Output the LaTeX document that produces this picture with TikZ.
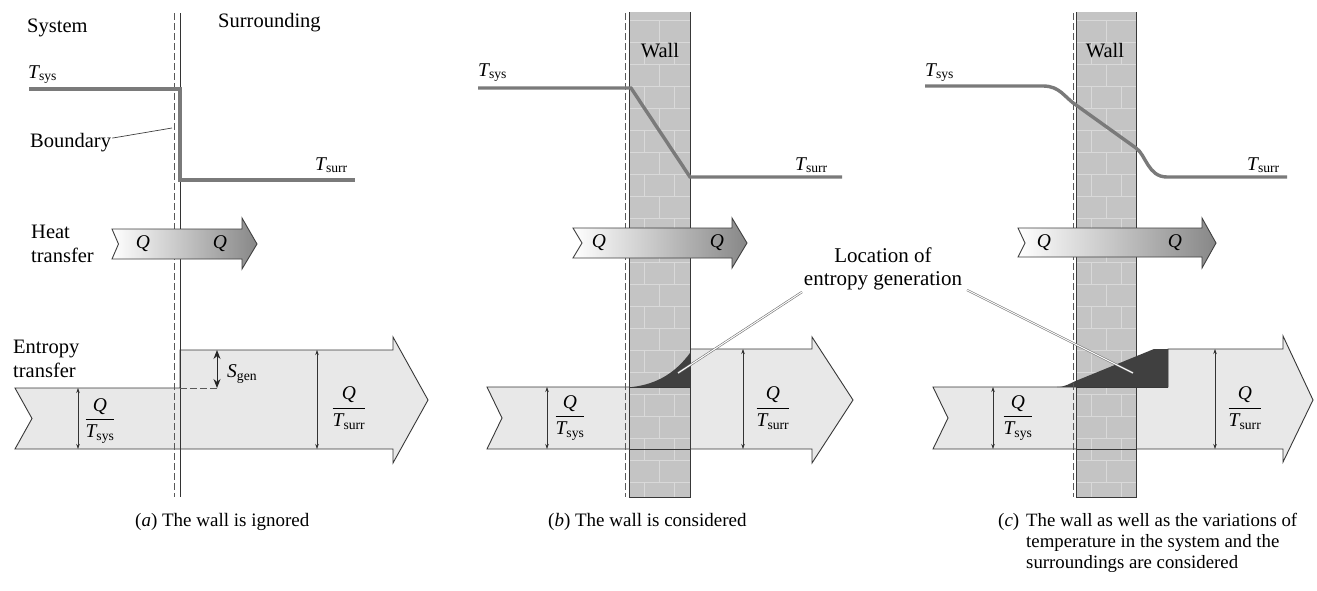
\RequirePackage{fix-cm}
\documentclass[tikz,border=0pt]{standalone}
\usepackage{amsmath}
\usepackage{fontspec}
\setmainfont{Liberation Serif}
\usetikzlibrary{arrows.meta}
\tikzset{
  outl/.style={draw=black!78, line width=0.9pt},
  templine/.style={draw=black!52, line width=3.4pt},
  solidb/.style={draw=black!80, line width=0.9pt},
  dashb/.style={draw=black!65, line width=0.7pt, dash pattern=on 7pt off 3pt},
  heatarr/.style={left color=white, right color=black!47, draw=black!75, line width=0.9pt},
  entarr/.style={fill=black!9, draw=black!78, line width=0.9pt},
  wallfill/.style={fill=black!23},
  brickln/.style={draw=black!15, line width=1pt},
  genreg/.style={fill=black!75},
  dimsmall/.style={draw=black!80, line width=0.6pt, {Stealth[length=5pt,width=3.5pt]}-{Stealth[length=5pt,width=3.5pt]}},
  dimbig/.style={draw=black!85, line width=1pt, {Stealth[length=9pt,width=7pt]}-{Stealth[length=9pt,width=7pt]}},
  leaderln/.style={draw=black!55, line width=0.6pt, double=white, double distance=1pt},
  thinleader/.style={draw=black!75, line width=0.7pt},
  lbl/.style={font=\fontsize{20.5}{23.5}\selectfont, anchor=base west, inner sep=0pt, align=left},
  tlbl/.style={font=\fontsize{19.5}{22}\selectfont, inner sep=0pt},
  captext/.style={font=\fontsize{19}{21}\selectfont, anchor=base west, inner sep=0pt, align=left},
}
\newcommand\wallat[2]{%
  \fill[wallfill] (#1,12) rectangle (#2,497);
  \begin{scope}
    \clip (#1,12) rectangle (#2,497);
    \foreach \k in {0,...,22}{%
      \pgfmathsetmacro\yy{20+\k*22}
      \pgfmathsetmacro\yn{20+(\k+1)*22}
      \draw[brickln] (#1,\yy) -- (#2,\yy);
      \ifodd\k
        \draw[brickln] ({#1+15},\yy) -- ({#1+15},\yn);
        \draw[brickln] ({#1+45},\yy) -- ({#1+45},\yn);
      \else
        \draw[brickln] ({#1+30},\yy) -- ({#1+30},\yn);
      \fi
    }
  \end{scope}
  \draw[outl] (#1,12) -- (#1,497) -- (#2,497) -- (#2,12);
}
\newcommand\Tsys{$\textit{T}_{\text{sys}}$}
\newcommand\Tsurr{$\textit{T}_{\text{surr}}$}
\newcommand\QTsys{$\dfrac{\textit{Q}}{\textit{T}_{\text{sys}}}$}
\newcommand\QTsurr{$\dfrac{\textit{Q}}{\textit{T}_{\text{surr}}}$}
\begin{document}
\begin{tikzpicture}[x=1pt,y=-1pt]
\useasboundingbox (0,0) rectangle (1317,590);
\fill[white] (0,0) rectangle (1317,590);

% ================= panel (a) =================
\path[entarr] (15,388) -- (180,388) -- (180,350) -- (393,350) -- (393,337) -- (428,400) -- (393,463) -- (393,449) -- (15,449) -- (32,418.5) -- cycle;
\draw[dashb] (174,13) -- (174,497);
\draw[solidb] (180,13) -- (180,497);
\draw[dashb] (180,388) -- (218,388);
\draw[templine] (29,89) -- (180,89) -- (180,180) -- (355,180);
\path[heatarr] (112,229) -- (242,229) -- (242,218) -- (257,244) -- (242,269) -- (242,259) -- (112,259) -- (118.5,244) -- cycle;
\draw[dimsmall] (78,388) -- (78,449);
\draw[dimbig] (217,350) -- (217,388);
\draw[dimsmall] (317,350) -- (317,449);

\node[lbl] (sysA) at (27,32) {System};
\node[lbl] (surA) at (218,27) {Surrounding};
\node[lbl] (bndA) at (30,147) {Boundary};
\coordinate (bndtip) at (172,128);
\draw[thinleader] (bndA.east) ++(1,-4) -- (bndtip);
\node[lbl] (heatA) at (31,262) {Heat\\transfer};
\node[lbl] (entA) at (13,377) {Entropy\\transfer};
\node[tlbl, anchor=base west] (tsysA) at (28,78) {\Tsys};
\node[tlbl, anchor=base west] (tsurA) at (315,170) {\Tsurr};
\node[tlbl] (q1A) at (143,244) {\textit{Q}};
\node[tlbl] (q2A) at (220,244) {\textit{Q}};
\node[tlbl] (fsA) at (100,421) {\QTsys};
\node[tlbl] (frA) at (349,408) {\QTsurr};
\node[tlbl, anchor=west] (sgA) at (227,374) {$\textit{S}_{\text{gen}}$};
\node[captext] (capA) at (135,526) {(\textit{a}) The wall is ignored};

% ================= panel (b) =================
\path[entarr] (487,387) -- (690,387) -- (690,349) -- (812,349) -- (812,337) -- (853,400) -- (812,463) -- (812,449) -- (487,449) -- (502,418) -- cycle;
\wallat{629}{690}
\fill[genreg] (632,387) .. controls (658,384) and (676,372) .. (690,353) -- (690,387) -- cycle;
\draw[outl] (629,387) -- (690,387) (629,449) -- (690,449);
\draw[dashb] (625,13) -- (625,497);
\draw[templine] (478,88) -- (631,88) -- (690,177) -- (842,177);
\path[heatarr] (573,228) -- (732,228) -- (732,218) -- (747,243) -- (732,268) -- (732,258) -- (573,258) -- (582,243) -- cycle;
\draw[dimsmall] (547,387) -- (547,449);
\draw[dimsmall] (743,349) -- (743,449);

\node[lbl, anchor=base] (wallB) at (660,57) {Wall};
\node[tlbl, anchor=base west] (tsysB) at (478,76) {\Tsys};
\node[tlbl, anchor=base west] (tsurB) at (795,170) {\Tsurr};
\node[tlbl] (q1B) at (599,243) {\textit{Q}};
\node[tlbl] (q2B) at (717,243) {\textit{Q}};
\node[tlbl] (fsB) at (570,418) {\QTsys};
\node[tlbl] (frB) at (773,408) {\QTsurr};
\node[lbl, anchor=base, align=center, font=\fontsize{21}{23}\selectfont] (locB) at (883,285) {Location of\\entropy generation};
\coordinate (genB) at (678,373);
\draw[leaderln] (802,292) -- (genB);
\node[captext] (capB) at (548,526) {(\textit{b}) The wall is considered};

% ================= panel (c) =================
\path[entarr] (933,387) -- (1168,387) -- (1168,349) -- (1283,349) -- (1283,336) -- (1313,400) -- (1283,462) -- (1283,449) -- (933,449) -- (948,418) -- cycle;
\wallat{1076}{1136}
\fill[genreg] (1057,387) .. controls (1066,387) and (1070,383) .. (1078,380) -- (1154,349) -- (1168,349) -- (1168,387) -- cycle;
\draw[outl] (1076,387) -- (1168,387) (1076,449) -- (1136,449);
\draw[dashb] (1073,13) -- (1073,497);
\draw[templine] (925,86) -- (1043,86) .. controls (1060,86) and (1064,97) .. (1076,105) -- (1136,148) .. controls (1146,155) and (1148,177) .. (1167,177) -- (1287,177);
\path[heatarr] (1018,228) -- (1202,228) -- (1202,218) -- (1216,243) -- (1202,268) -- (1202,257) -- (1018,257) -- (1025,243) -- cycle;
\draw[dimsmall] (993,387) -- (993,449);
\draw[dimsmall] (1215,349) -- (1215,449);

\node[lbl, anchor=base] (wallC) at (1105,57) {Wall};
\node[tlbl, anchor=base west] (tsysC) at (925,76) {\Tsys};
\node[tlbl, anchor=base west] (tsurC) at (1247,170) {\Tsurr};
\node[tlbl] (q1C) at (1044,243) {\textit{Q}};
\node[tlbl] (q2C) at (1175,243) {\textit{Q}};
\node[tlbl] (fsC) at (1018,418) {\QTsys};
\node[tlbl] (frC) at (1245,408) {\QTsurr};
\coordinate (genC) at (1133,373);
\draw[leaderln] (967,290) -- (genC);
\node[captext] (capC1) at (998,526) {(\textit{c})};
\node[captext, font=\fontsize{18.8}{21}\selectfont] (capC) at (1026,568) {The wall as well as the variations of\\temperature in the system and the\\surroundings are considered};
\end{tikzpicture}
\end{document}
